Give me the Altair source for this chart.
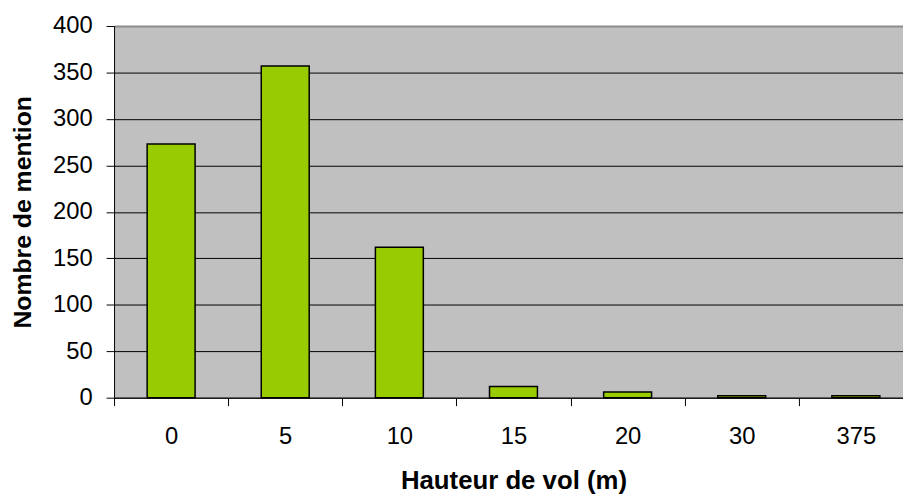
import altair as alt
import pandas as pd

categories = ["0", "5", "10", "15", "20", "30", "375"]
counts = [273, 357, 162, 12, 6, 2, 2]

df = pd.DataFrame({"hauteur": categories, "n": counts})

FONT = "Liberation Sans"

chart = alt.Chart(df).mark_bar(
    fill="#99CC00", stroke="black", strokeWidth=1.5,
    width={"band": 0.42}
).encode(
    x=alt.X("hauteur:N", sort=categories,
            scale=alt.Scale(paddingInner=0, paddingOuter=0, range=[0, 806]),
            axis=alt.Axis(title="Hauteur de vol (m)", labelAngle=0, tickBand="extent",
                          labelFontSize=24, labelFont=FONT, labelColor="black",
                          titleFont=FONT, titleFontSize=26, titleFontWeight="bold",
                          titleColor="black", tickColor="black", domainColor="black",
                          tickSize=8, labelPadding=19, titlePadding=20)),
    y=alt.Y("n:Q", scale=alt.Scale(domain=[0, 400], nice=False),
            axis=alt.Axis(title="Nombre de mention", values=list(range(0, 401, 50)),
                          labelFontSize=24, labelFont=FONT, labelColor="black",
                          titleFont=FONT, titleFontSize=25, titleFontWeight="bold",
                          titleColor="black", tickColor="black", domainColor="black",
                          gridColor=alt.condition(alt.datum.value == 400,
                                                  alt.value("#8C8C8C"), alt.value("black")),
                          gridWidth=alt.condition(alt.datum.value == 400,
                                                  alt.value(2), alt.value(1)),
                          grid=True, tickSize=8,
                          labelPadding=14, titlePadding=17)),
).properties(
    width=796, height=375,
    padding={"left": 107, "top": 16, "right": 0, "bottom": 95},
    autosize="none",
).configure_view(
    fill="#C0C0C0", strokeWidth=0
)

chart.save("out.html", embed_options={"renderer": "svg", "actions": False})
